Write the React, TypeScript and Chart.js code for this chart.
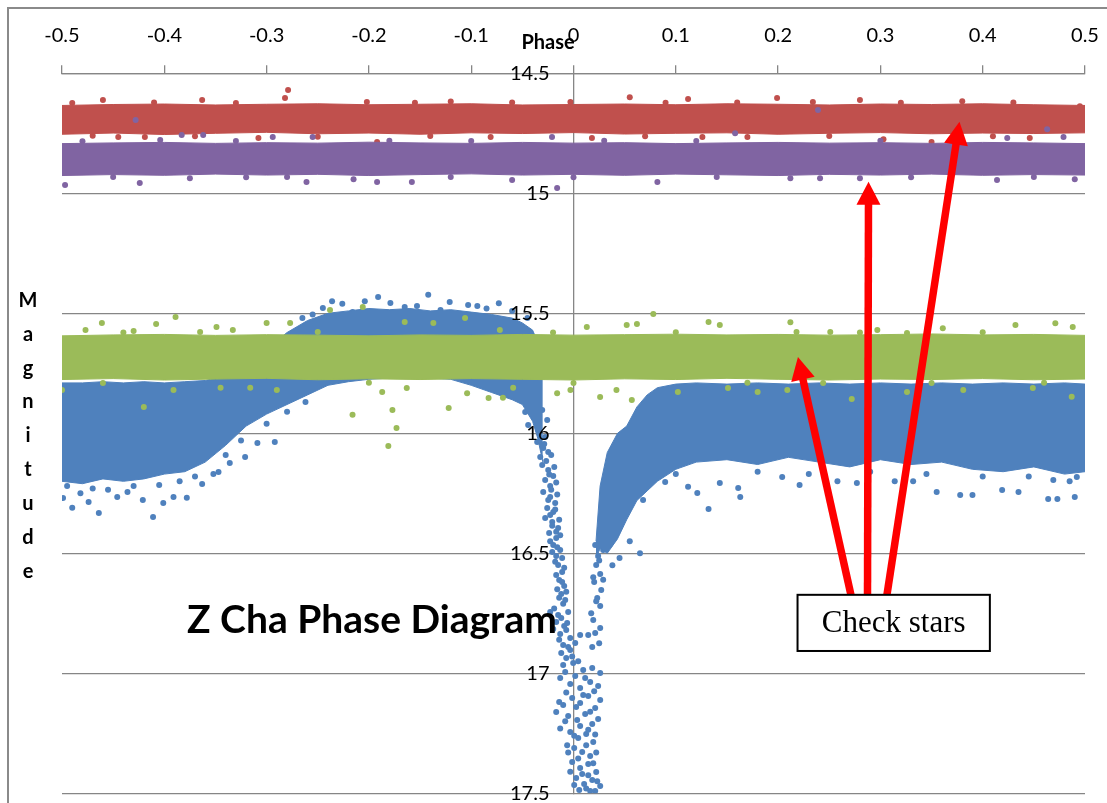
import React, { useEffect, useRef } from "react";
import { Chart, registerables } from "chart.js";

Chart.register(...registerables);

// ---------- colours ----------
const RED = "#C0504D";
const PURPLE = "#8064A2";
const GREEN = "#9BBB59";
const BLUE = "#4F81BD";
const GRID = "#868686";

// ---------- axes ----------
const xMin = -0.5;
const xMax = 0.5;
const xStep = 0.1;
const yTicks = [14.5, 15, 15.5, 16, 16.5, 17, 17.5];

// ---------- check stars (dense bands: upper / lower edge of the dot cloud) ----------
const checkPhase = [-0.5, -0.45, -0.4, -0.35, -0.3, -0.25, -0.2, -0.15, -0.1, -0.05, 0, 0.05, 0.1, 0.15, 0.2, 0.25, 0.3, 0.35, 0.4, 0.45, 0.5];
const redTop = [14.634, 14.63, 14.628, 14.632, 14.629, 14.627, 14.631, 14.629, 14.627, 14.632, 14.63, 14.628, 14.631, 14.627, 14.629, 14.632, 14.628, 14.63, 14.627, 14.631, 14.634];
const redBottom = [14.754, 14.749, 14.755, 14.75, 14.746, 14.752, 14.749, 14.754, 14.748, 14.751, 14.747, 14.753, 14.75, 14.748, 14.754, 14.75, 14.747, 14.752, 14.749, 14.751, 14.748];
const purpleTop = [14.793, 14.79, 14.788, 14.792, 14.789, 14.791, 14.787, 14.79, 14.792, 14.788, 14.791, 14.789, 14.793, 14.79, 14.788, 14.791, 14.789, 14.792, 14.788, 14.79, 14.793];
const purpleBottom = [14.926, 14.922, 14.925, 14.92, 14.924, 14.921, 14.926, 14.922, 14.919, 14.924, 14.921, 14.925, 14.92, 14.923, 14.926, 14.921, 14.924, 14.92, 14.925, 14.922, 14.924];
const greenTop = [15.594, 15.59, 15.588, 15.592, 15.589, 15.591, 15.594, 15.59, 15.592, 15.588, 15.591, 15.589, 15.587, 15.59, 15.588, 15.591, 15.589, 15.586, 15.59, 15.588, 15.592];
const greenBottom = [15.776, 15.772, 15.778, 15.774, 15.771, 15.777, 15.773, 15.776, 15.772, 15.775, 15.778, 15.773, 15.776, 15.771, 15.775, 15.778, 15.774, 15.776, 15.772, 15.777, 15.774];

// scattered check-star points outside the dense cores [phase, magnitude]
const redPoints: [number, number][] = [
  [-0.279, 14.57], [-0.282, 14.603], [-0.46, 14.611], [-0.363, 14.611], [-0.202, 14.62], [-0.445, 14.765], [-0.419, 14.765],
  [-0.308, 14.77], [-0.192, 14.786], [0.055, 14.6], [-0.003, 14.62], [0.112, 14.607], [0.199, 14.603], [0.018, 14.77],
  [0.17, 14.765], [-0.081, 14.765], [0.126, 14.765], [0.28, 14.611], [0.234, 14.62], [0.495, 14.637], [0.446, 14.77],
  [0.35, 14.786], [0.303, 14.775], [-0.12, 14.618], [0.38, 14.616], [-0.25, 14.764],
  [-0.49, 14.624], [-0.41, 14.622], [-0.33, 14.624], [-0.155, 14.623], [-0.06, 14.622], [0.09, 14.623], [0.16, 14.622],
  [0.32, 14.623], [0.43, 14.622], [-0.47, 14.76], [-0.37, 14.762], [-0.14, 14.761], [0.07, 14.762], [0.25, 14.761], [0.41, 14.762],
];
const purplePoints: [number, number][] = [
  [-0.383, 14.757], [-0.362, 14.757], [-0.294, 14.765], [-0.255, 14.765], [-0.404, 14.778], [-0.428, 14.695],
  [-0.497, 14.965], [-0.424, 14.957], [-0.375, 14.937], [-0.28, 14.932], [-0.261, 14.953], [-0.215, 14.941], [-0.192, 14.953],
  [-0.158, 14.953], [-0.06, 14.945], [-0.016, 14.978], [0.082, 14.953], [0.212, 14.937], [-0.021, 14.765], [0.158, 14.75],
  [0.241, 14.937], [0.28, 14.937], [0.414, 14.945], [0.49, 14.941], [0.424, 14.77], [0.479, 14.765], [0.463, 14.733], [0.239, 14.653],
  [-0.48, 14.783], [-0.33, 14.782], [-0.18, 14.781], [-0.1, 14.782], [0.03, 14.781], [0.12, 14.782], [0.3, 14.781], [0.37, 14.782],
  [-0.45, 14.932], [-0.32, 14.933], [-0.12, 14.932], [0.0, 14.933], [0.14, 14.932], [0.33, 14.933], [0.45, 14.932],
];
const greenPoints: [number, number][] = [
  [0.212, 15.537], [0.297, 15.57], [0.326, 15.582], [0.361, 15.562], [0.432, 15.549], [0.471, 15.541], [0.488, 15.557], [0.251, 15.578],
  [0.078, 15.503], [0.132, 15.536], [0.143, 15.549], [0.218, 15.578], [0.052, 15.549], [0.062, 15.545], [0.013, 15.557],
  [-0.389, 15.515], [-0.461, 15.54], [-0.408, 15.545], [-0.365, 15.578], [-0.349, 15.557], [-0.477, 15.57], [-0.43, 15.574],
  [-0.333, 15.57], [-0.3, 15.54], [-0.277, 15.54], [-0.238, 15.486], [-0.206, 15.474], [-0.165, 15.536], [-0.137, 15.54],
  [-0.106, 15.52], [-0.072, 15.57],
  [-0.42, 15.89], [-0.216, 15.923], [-0.177, 15.903], [-0.173, 15.978], [-0.181, 16.053], [-0.122, 15.895], [-0.187, 15.828],
  [-0.163, 15.811], [-0.5, 15.82], [-0.391, 15.82], [-0.345, 15.81], [-0.316, 15.81], [-0.29, 15.82], [-0.104, 15.833],
  [-0.083, 15.853], [0.026, 15.849], [0.057, 15.861], [-0.016, 15.833], [-0.069, 15.852], [-0.059, 15.81], [-0.003, 15.82],
  [0.042, 15.82], [0.18, 15.828], [0.209, 15.82], [0.272, 15.857], [0.102, 15.828], [0.151, 15.811], [0.244, 15.79],
  [0.487, 15.848], [0.449, 15.811], [0.381, 15.82], [0.326, 15.828],
  [-0.44, 15.58], [-0.25, 15.578], [-0.02, 15.58], [0.1, 15.579], [0.28, 15.58], [0.4, 15.579],
  [-0.46, 15.79], [-0.2, 15.789], [0.0, 15.79], [0.17, 15.789], [0.35, 15.79], [0.46, 15.789],
];

// ---------- Z Cha (blue) ----------
const blueLeftPhase = [-0.5, -0.48, -0.46, -0.44, -0.42, -0.4, -0.38, -0.36, -0.34, -0.32, -0.3, -0.28, -0.26, -0.24, -0.22, -0.2, -0.18, -0.16, -0.14, -0.12, -0.1, -0.08, -0.06, -0.05, -0.04, -0.035, -0.03];
const blueLeftTop = [15.79, 15.79, 15.785, 15.79, 15.785, 15.79, 15.785, 15.78, 15.76, 15.72, 15.65, 15.58, 15.53, 15.5, 15.49, 15.48, 15.485, 15.48, 15.49, 15.485, 15.495, 15.505, 15.52, 15.54, 15.57, 15.62, 15.72];
const blueLeftBottom = [16.2, 16.21, 16.19, 16.2, 16.19, 16.17, 16.16, 16.12, 16.05, 15.97, 15.92, 15.88, 15.84, 15.8, 15.785, 15.775, 15.77, 15.77, 15.77, 15.775, 15.8, 15.83, 15.86, 15.88, 15.95, 16.02, 16.12];
const blueRightPhase = [0.022, 0.026, 0.033, 0.043, 0.052, 0.062, 0.072, 0.082, 0.1, 0.12, 0.15, 0.18, 0.21, 0.24, 0.27, 0.3, 0.33, 0.36, 0.39, 0.42, 0.45, 0.48, 0.5];
const blueRightTop = [16.45, 16.22, 16.08, 16.0, 15.97, 15.89, 15.84, 15.81, 15.795, 15.79, 15.795, 15.79, 15.795, 15.79, 15.795, 15.79, 15.795, 15.79, 15.795, 15.79, 15.795, 15.79, 15.795];
const blueRightBottom = [16.52, 16.48, 16.5, 16.44, 16.36, 16.28, 16.24, 16.2, 16.15, 16.12, 16.11, 16.13, 16.1, 16.12, 16.14, 16.11, 16.13, 16.12, 16.15, 16.16, 16.14, 16.17, 16.16];

const bluePoints: [number, number][] = [
  // faint tail of the left part
  [-0.499, 16.27], [-0.49, 16.31], [-0.474, 16.286], [-0.464, 16.332], [-0.446, 16.265], [-0.436, 16.245], [-0.421, 16.278],
  [-0.411, 16.349], [-0.401, 16.29], [-0.391, 16.265], [-0.378, 16.269], [-0.363, 16.211], [-0.347, 16.161], [-0.336, 16.124],
  [-0.321, 16.099], [-0.309, 16.04], [-0.292, 16.036], [-0.455, 16.235], [-0.482, 16.25], [-0.352, 16.17],
  [-0.495, 16.22], [-0.47, 16.23], [-0.43, 16.22], [-0.405, 16.215], [-0.385, 16.2], [-0.37, 16.18], [-0.34, 16.09],
  [-0.325, 16.03], [-0.3, 15.96], [-0.28, 15.91], [-0.262, 15.87],
  // top of the hump
  [-0.236, 15.45], [-0.226, 15.46], [-0.204, 15.45], [-0.191, 15.432], [-0.179, 15.457], [-0.153, 15.47], [-0.142, 15.423],
  [-0.121, 15.453], [-0.103, 15.465], [-0.094, 15.47], [-0.073, 15.458], [-0.245, 15.478], [-0.216, 15.495], [-0.13, 15.486],
  [-0.06, 15.49], [-0.045, 15.52], [-0.265, 15.52], [-0.255, 15.505], [-0.165, 15.474], [-0.085, 15.48],
  // ingress
  [-0.0472, 15.911], [-0.0374, 15.936], [-0.0443, 15.965], [-0.0306, 15.903], [-0.0257, 15.945], [-0.0345, 15.986], [-0.0277, 16.015],
  [-0.0355, 16.036], [-0.0296, 16.061], [-0.0247, 16.078], [-0.0325, 16.099], [-0.0306, 16.132], [-0.0247, 16.153], [-0.0198, 16.178],
  [-0.0277, 16.195], [-0.0228, 16.22], [-0.0296, 16.245], [-0.0228, 16.265], [-0.0179, 16.29], [-0.0257, 16.311], [-0.0198, 16.328],
  [-0.0277, 16.353], [-0.0208, 16.37], [-0.015, 16.395], [-0.0238, 16.415], [-0.0169, 16.436], [-0.0198, 16.465], [-0.013, 16.486],
  [-0.0169, 16.511], [-0.015, 16.549], [-0.0111, 16.578], [-0.014, 16.611], [-0.0091, 16.636], [-0.012, 16.67], [-0.0081, 16.695],
  [-0.0228, 16.745], [-0.015, 16.757], [-0.0052, 16.745], [-0.0169, 16.786], [-0.0091, 16.803], [-0.013, 16.836], [-0.0032, 16.853],
  [-0.0101, 16.882], [-0.0032, 16.903], [0.0017, 16.874], [-0.0071, 16.936], [-0.0003, 16.957],
  [-0.0286, 16.045], [-0.0218, 16.09], [-0.0267, 16.115], [-0.0188, 16.14], [-0.0237, 16.172], [-0.0169, 16.205], [-0.0218, 16.235],
  [-0.0159, 16.255], [-0.0247, 16.278], [-0.0179, 16.318], [-0.0228, 16.34], [-0.014, 16.36], [-0.0208, 16.385], [-0.0169, 16.41],
  [-0.013, 16.425], [-0.0228, 16.45], [-0.0159, 16.475], [-0.0208, 16.495], [-0.0111, 16.52], [-0.0179, 16.535], [-0.0091, 16.56],
  [-0.0169, 16.59], [-0.0111, 16.62], [-0.0159, 16.65], [-0.0071, 16.66], [-0.014, 16.685], [-0.0101, 16.71], [-0.0189, 16.73],
  [-0.012, 16.77], [-0.0062, 16.79], [-0.0198, 16.815], [-0.0071, 16.82], [-0.014, 16.86], [-0.0052, 16.89], [-0.012, 16.915],
  [-0.0013, 16.93], [-0.0101, 16.965], [0.0046, 16.95],
  // minimum
  [-0.0081, 16.995], [0.0017, 17.011], [0.0095, 16.986], [0.0183, 16.978], [0.0261, 16.999], [-0.0032, 17.045], [0.0065, 17.061],
  [0.0163, 17.036], [0.0241, 17.053], [-0.0169, 17.161], [-0.0101, 17.132], [-0.0013, 17.103], [0.0065, 17.124], [0.0144, 17.095],
  [0.0212, 17.145], [-0.0052, 17.178], [0.0036, 17.195], [0.0114, 17.17], [0.0183, 17.211], [0.0261, 17.111], [-0.0032, 17.245],
  [0.0046, 17.27], [0.0124, 17.253], [0.0193, 17.286], [0.0007, 17.311], [0.0085, 17.328], [0.0163, 17.345], [-0.0013, 17.37],
  [0.0065, 17.395], [0.0144, 17.378], [0.0222, 17.411], [0.0026, 17.436], [0.0104, 17.461], [0.0183, 17.445], [0.0261, 17.47],
  [0.0056, 17.486], [0.0163, 17.49],
  [-0.013, 17.02], [0.0114, 17.02], [0.0202, 17.075], [-0.0071, 17.08], [0.0095, 17.09], [-0.014, 17.12], [0.0026, 17.14],
  [0.0163, 17.16], [-0.0081, 17.2], [0.0065, 17.22], [0.0241, 17.19], [-0.013, 17.23], [0.0144, 17.235], [0.0007, 17.26],
  [0.0212, 17.255], [-0.0062, 17.3], [0.0124, 17.3], [0.0222, 17.33], [0.0046, 17.355], [-0.0052, 17.33], [0.0193, 17.375],
  [0.0085, 17.42], [-0.0032, 17.41], [0.0144, 17.425], [0.0232, 17.45], [0.0007, 17.465], [0.0124, 17.48], [0.0212, 17.49],
  // egress
  [0.0212, 16.465], [0.029, 16.486], [0.0359, 16.461], [0.0241, 16.511], [0.0222, 16.549], [0.0261, 16.586], [0.0202, 16.62],
  [0.0271, 16.653], [0.0232, 16.686], [0.0261, 16.72], [0.0193, 16.778], [0.0261, 16.811], [0.0144, 16.84], [0.0212, 16.832],
  [0.0065, 16.84], [0.065, 16.5], [0.055, 16.45], [0.0251, 16.53], [0.0193, 16.6], [0.0222, 16.7], [0.0173, 16.75], [0.029, 16.61],
  [0.0183, 16.89], [0.0251, 16.875], [0.045, 16.52], [0.038, 16.55],
  // faint tail of the right part
  [0.204, 16.182], [0.221, 16.215], [0.258, 16.2], [0.277, 16.207], [0.314, 16.2], [0.332, 16.2], [0.355, 16.245], [0.378, 16.257],
  [0.39, 16.257], [0.419, 16.236], [0.435, 16.245], [0.464, 16.274], [0.473, 16.274], [0.49, 16.265], [0.469, 16.195], [0.492, 16.182],
  [0.0896, 16.203], [0.112, 16.223], [0.132, 16.315], [0.143, 16.207], [0.161, 16.228], [0.163, 16.265], [0.121, 16.249],
  [0.068, 16.278], [0.07, 16.223], [0.1, 16.17], [0.18, 16.16], [0.23, 16.17], [0.29, 16.16], [0.345, 16.17], [0.4, 16.18],
  [0.445, 16.18], [0.485, 16.2],
];

// ---------- annotation (data coordinates) ----------
const boxPhase = [0.219, 0.407];
const boxMag = [16.673, 16.907];
const arrowTails: [number, number][] = [[0.2712, 16.673], [0.2874, 16.673], [0.3064, 16.673]];
const arrowTips: [number, number][] = [[0.2194, 15.682], [0.2884, 14.952], [0.3773, 14.702]];

const W = 1120;
const H = 840;

function buildDatasets() {
  const ds: any[] = [];
  const band = (phase: number[], top: number[], bottom: number[], color: string, order: number) => {
    const idx = ds.length;
    ds.push({
      type: "line", data: phase.map((p, i) => ({ x: p, y: top[i] })),
      borderColor: color, borderWidth: 1, pointRadius: 0, pointHoverRadius: 0, fill: false, tension: 0, order,
    });
    ds.push({
      type: "line", data: phase.map((p, i) => ({ x: p, y: bottom[i] })),
      borderColor: color, borderWidth: 1, pointRadius: 0, pointHoverRadius: 0, fill: idx, backgroundColor: color, tension: 0, order,
    });
  };
  const dots = (pts: [number, number][], color: string, order: number) => {
    ds.push({
      type: "line", showLine: false, data: pts.map(([x, y]) => ({ x, y })),
      pointRadius: 3, pointHoverRadius: 3, pointBorderWidth: 0, pointBackgroundColor: color, borderColor: color, order,
    });
  };
  band(blueLeftPhase, blueLeftTop, blueLeftBottom, BLUE, 4);
  band(blueRightPhase, blueRightTop, blueRightBottom, BLUE, 4);
  dots(bluePoints, BLUE, 4);
  band(checkPhase, redTop, redBottom, RED, 3);
  dots(redPoints, RED, 3);
  band(checkPhase, purpleTop, purpleBottom, PURPLE, 2);
  dots(purplePoints, PURPLE, 2);
  band(checkPhase, greenTop, greenBottom, GREEN, 1);
  dots(greenPoints, GREEN, 1);
  return ds;
}

const annotationPlugin = {
  id: "zchaAnnotations",
  afterDatasetsDraw(chart: any) {
    // y tick labels beside the vertical axis at phase 0, drawn over the points
    const { ctx } = chart;
    const xs = chart.scales.x;
    const ys = chart.scales.y;
    const axisX = xs.getPixelForValue(0);
    ctx.save();
    ctx.fillStyle = "#000";
    ctx.font = "20px Lato";
    ctx.textAlign = "right";
    ctx.textBaseline = "middle";
    yTicks.forEach((v) => ctx.fillText(String(v), axisX - 24, ys.getPixelForValue(v)));
    ctx.restore();
  },
  afterDraw(chart: any) {
    const { ctx } = chart;
    const xs = chart.scales.x;
    const ys = chart.scales.y;
    ctx.save();
    ctx.fillStyle = "#000";

    // axis title "Phase"
    ctx.font = "bold 20px Lato";
    ctx.textAlign = "center";
    ctx.textBaseline = "alphabetic";
    ctx.fillText("Phase", 539, 40);

    // vertical axis title "Magnitude" as stacked letters
    ctx.font = "bold 20px Lato";
    "Magnitude".split("").forEach((ch, i) => ctx.fillText(ch, 19, 297.7 + i * 33.9));

    // chart title
    ctx.font = "bold 39px Lato";
    ctx.textAlign = "left";
    ctx.fillText("Z Cha Phase Diagram", 178, 624);

    // arrows
    ctx.strokeStyle = "#FF0000";
    ctx.fillStyle = "#FF0000";
    ctx.lineWidth = 7.5;
    ctx.lineCap = "butt";
    const headLen = 23;
    const headHalf = 12;
    arrowTails.forEach((t, i) => {
      const tx = xs.getPixelForValue(t[0]);
      const ty = ys.getPixelForValue(t[1]);
      const hx = xs.getPixelForValue(arrowTips[i][0]);
      const hy = ys.getPixelForValue(arrowTips[i][1]);
      const dx = hx - tx;
      const dy = hy - ty;
      const len = Math.hypot(dx, dy);
      const ux = dx / len;
      const uy = dy / len;
      const bx = hx - ux * headLen;
      const by = hy - uy * headLen;
      ctx.beginPath();
      ctx.moveTo(tx, ty);
      ctx.lineTo(bx + ux * 2, by + uy * 2);
      ctx.stroke();
      ctx.beginPath();
      ctx.moveTo(hx, hy);
      ctx.lineTo(bx - uy * headHalf, by + ux * headHalf);
      ctx.lineTo(bx + uy * headHalf, by - ux * headHalf);
      ctx.closePath();
      ctx.fill();
    });

    // label box
    const bx0 = xs.getPixelForValue(boxPhase[0]);
    const bx1 = xs.getPixelForValue(boxPhase[1]);
    const by0 = ys.getPixelForValue(boxMag[0]);
    const by1 = ys.getPixelForValue(boxMag[1]);
    ctx.fillStyle = "#FFFFFF";
    ctx.fillRect(bx0, by0, bx1 - bx0, by1 - by0);
    ctx.strokeStyle = "#000";
    ctx.lineWidth = 2;
    ctx.strokeRect(bx0, by0, bx1 - bx0, by1 - by0);
    ctx.fillStyle = "#000";
    ctx.font = "31px 'Liberation Serif'";
    ctx.textAlign = "center";
    ctx.textBaseline = "middle";
    ctx.fillText("Check stars", (bx0 + bx1) / 2, (by0 + by1) / 2 + 0.5);
    ctx.restore();
  },
};

export default function App() {
  const ref = useRef<HTMLCanvasElement>(null);
  useEffect(() => {
    document.body.style.overflow = "hidden";
    document.documentElement.style.overflow = "hidden";
    const chart = new Chart(ref.current as HTMLCanvasElement, {
      type: "line",
      data: { datasets: buildDatasets() },
      plugins: [annotationPlugin],
      options: {
        responsive: false,
        animation: false,
        events: [],
        layout: { padding: { left: 53, right: W - 1076, top: 0, bottom: H - 784.3 } },
        plugins: { legend: { display: false }, tooltip: { enabled: false }, title: { display: false } },
        scales: {
          x: {
            type: "linear",
            position: "top",
            min: xMin,
            max: xMax,
            ticks: {
              stepSize: xStep,
              padding: 18,
              color: "#000",
              font: { family: "Lato", size: 20 },
              maxRotation: 0,
              autoSkip: false,
              callback: (v: any) => String(Math.round(Number(v) * 10) / 10),
            },
            grid: { drawOnChartArea: false, drawTicks: true, tickLength: 8, color: GRID, lineWidth: 1.3 },
            border: { display: true, color: GRID, width: 1.3 },
            afterFit: (s: any) => { s.height = 64.3; },
          },
          y: {
            type: "linear",
            position: { x: 0 } as any,
            reverse: true,
            min: yTicks[0],
            max: yTicks[yTicks.length - 1],
            ticks: { stepSize: 0.5, display: false },
            grid: { color: GRID, lineWidth: 1.3, drawTicks: false },
            border: { display: true, color: GRID, width: 1.3 },
          },
        },
      } as any,
    });
    return () => chart.destroy();
  }, []);
  return (
    <div
      style={{
        position: "absolute",
        left: 7,
        top: 7,
        width: W,
        height: H,
        borderLeft: "2px solid #8a8a8a",
        borderTop: "2px solid #8a8a8a",
        background: "#fff",
      }}
    >
      <canvas ref={ref} width={W} height={H} style={{ display: "block", width: W, height: H }} />
    </div>
  );
}
